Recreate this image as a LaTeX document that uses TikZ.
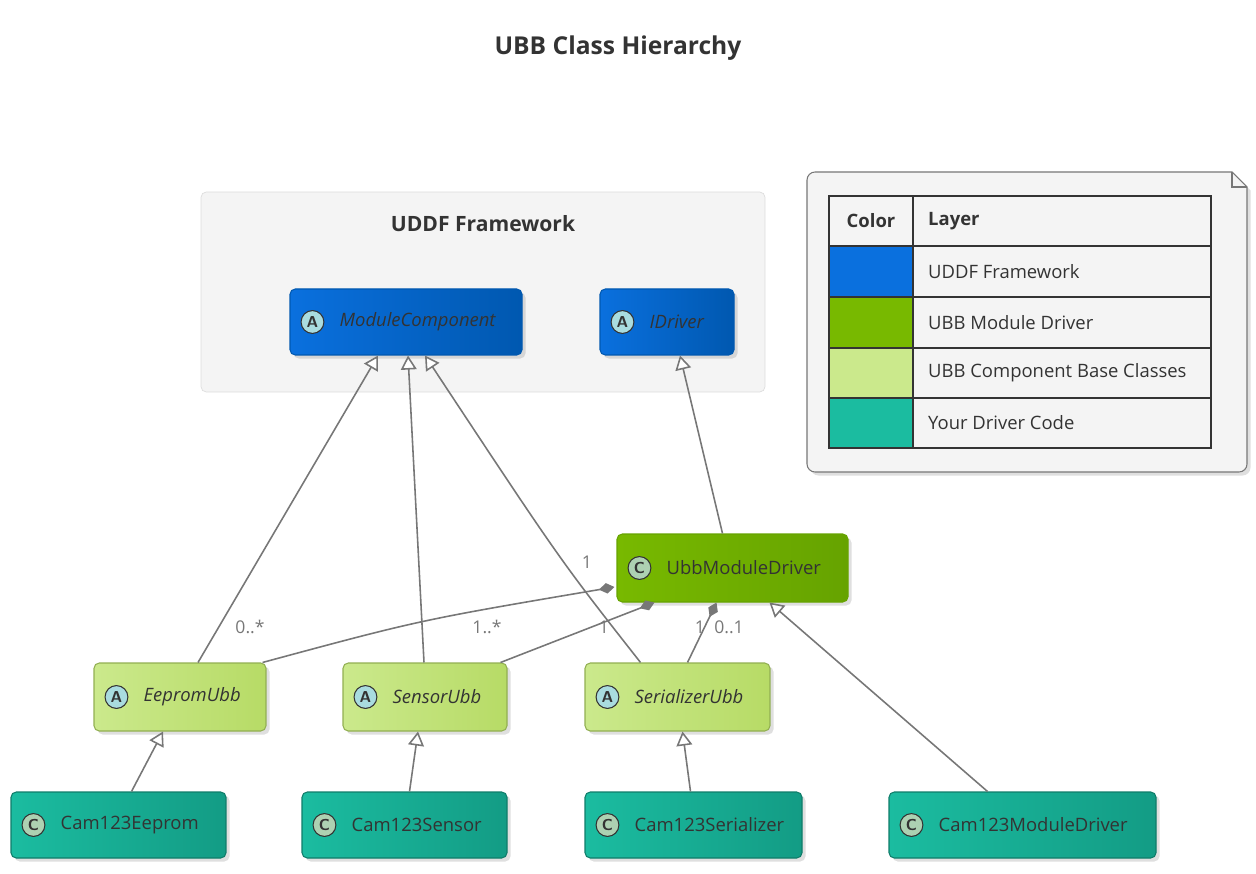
\documentclass[tikz,border=0pt]{standalone}
\usepackage{fontspec}
\setmainfont{Open Sans}
\usetikzlibrary{arrows.meta,calc,shadows}
\definecolor{pkgfill}{HTML}{F4F4F4}
\definecolor{pkgline}{HTML}{DDDDDD}
\definecolor{fwA}{HTML}{0A70DE}
\definecolor{fwB}{HTML}{0058B0}
\definecolor{drvA}{HTML}{78B900}
\definecolor{drvB}{HTML}{66A300}
\definecolor{baseA}{HTML}{CBE98C}
\definecolor{baseB}{HTML}{B7DB66}
\definecolor{yourA}{HTML}{1BBCA0}
\definecolor{yourB}{HTML}{139C85}
\definecolor{iconA}{HTML}{A9DCDF}
\definecolor{iconC}{HTML}{ADD1B2}
\definecolor{edge}{HTML}{777777}
\definecolor{txt}{HTML}{333333}
\tikzset{
  x=0.02cm, y=-0.02cm,
  cls/.style={draw, rounded corners=3pt, line width=0.6pt, drop shadow={opacity=0.25, shadow xshift=2pt, shadow yshift=-2pt}},
  fw/.style={cls, draw=fwB, left color=fwA, right color=fwB},
  drv/.style={cls, draw=drvB, left color=drvA, right color=drvB},
  base/.style={cls, draw=baseB!80!black, left color=baseA, right color=baseB},
  your/.style={cls, draw=yourB!80!black, left color=yourA, right color=yourB},
  icon/.style={circle, draw=txt, line width=0.6pt, minimum size=13pt, inner sep=0pt, font=\bfseries\sffamily\small, text=txt},
  ctext/.style={anchor=west, text=txt, font=\fontsize{10.5}{12}\selectfont},
  inherit/.style={draw=edge, line width=0.9pt, -{Triangle[open, length=8pt, width=9pt, fill=white]}},
  compose/.style={draw=edge, line width=0.9pt, {Diamond[length=9pt, width=6pt]}-},
  mult/.style={text=edge, font=\fontsize{10}{12}\selectfont},
}
% class box: name, x1, y1, x2, y2, style, letter, icon colour, text
\newcommand{\umlclass}[9]{%
  \node[#6, minimum width=(#4-#2)*0.02cm, minimum height=(#5-#3)*0.02cm, inner sep=0pt] (#1) at ({(#2+#4)/2},{(#3+#5)/2}) {};
  \node[icon, fill=#8] (#1-icon) at ($(#1.west)+(23,0)$) {#7};
  \node[ctext] (#1-text) at ($(#1.west)+(44,0)$) {#9};
}
\begin{document}
\begin{tikzpicture}
  \useasboundingbox (0,0) rectangle (1256,874);

  \node[text=txt, font=\bfseries\fontsize{14}{16}\selectfont] (title) at (618,48) {UBB Class Hierarchy};

  % framework package
  \draw[pkgline, fill=pkgfill, rounded corners=3pt] (201,192) rectangle (765,392);
  \node[text=txt, font=\bfseries\fontsize{12}{14}\selectfont] (pkg) at (483,224) {UDDF Framework};

  \umlclass{mc}{290}{289}{522}{355}{fw}{A}{iconA}{\itshape ModuleComponent}
  \umlclass{idrv}{600}{289}{734}{355}{fw}{A}{iconA}{\itshape IDriver}
  \umlclass{umd}{617}{534}{848}{602}{drv}{C}{iconC}{UbbModuleDriver}
  \umlclass{eep}{94}{663}{266}{731}{base}{A}{iconA}{\itshape EepromUbb}
  \umlclass{sen}{343}{663}{507}{731}{base}{A}{iconA}{\itshape SensorUbb}
  \umlclass{ser}{585}{663}{770}{731}{base}{A}{iconA}{\itshape SerializerUbb}
  \umlclass{ceep}{11}{792}{226}{858}{your}{C}{iconC}{Cam123Eeprom}
  \umlclass{csen}{302}{792}{507}{858}{your}{C}{iconC}{Cam123Sensor}
  \umlclass{cser}{585}{792}{802}{858}{your}{C}{iconC}{Cam123Serializer}
  \umlclass{cmd}{889}{792}{1156}{858}{your}{C}{iconC}{Cam123ModuleDriver}

  % inheritance
  \draw[inherit] ($(eep.north)+(18,0)$) -- ($(mc.south)+(-28,0)$);
  \draw[inherit] ($(sen.north)+(-1,0)$) -- ($(mc.south)+(2,0)$);
  \draw[inherit] ($(ser.north)+(-37,0)$) .. controls (560,560) .. ($(mc.south)+(19,0)$);
  \draw[inherit] ($(umd.north)+(-10,0)$) -- ($(idrv.south)+(13,0)$);
  \draw[inherit] ($(cmd.north)+(-35,0)$) -- ($(umd.south)+(37,0)$);
  \draw[inherit] ($(ceep.north)+(13,0)$) -- ($(eep.south)+(-17,0)$);
  \draw[inherit] ($(csen.north)+(5,0)$) -- ($(sen.south)+(-7,0)$);
  \draw[inherit] ($(cser.north)+(-3,0)$) -- ($(ser.south)+(5,0)$);

  % composition
  \draw[compose] ($(umd.west)+(-2,19)$) .. controls (420,620) .. ($(eep.north east)+(-4,0)$);
  \draw[compose] ($(umd.south)+(-78,0)$) -- ($(sen.north east)+(-7,0)$);
  \draw[compose] ($(umd.south)+(-16,0)$) -- ($(ser.north)+(10,0)$);

  \node[mult] (m1) at (587,562) {1};
  \node[mult] (m2) at (250,627) {0..*};
  \node[mult] (m3) at (487,627) {1..*};
  \node[mult] (m4) at (604,627) {1};
  \node[mult] (m5) at (700,627) {1};
  \node[mult] (m6) at (729,627) {0..1};

  % legend note
  \draw[edge, fill=pkgfill, line width=0.6pt, drop shadow={opacity=0.25, shadow xshift=2pt, shadow yshift=-2pt}]
    (815,172) -- (1232,172) -- (1247,187) -- (1247,464) arc (0:90:8) -- (815,472) arc (90:180:8) -- (807,180) arc (180:270:8) -- cycle;
  \draw[edge, line width=0.6pt] (1232,172) -- (1232,187) -- (1247,187);
  \fill[fwA] (829,246) rectangle (913,297);
  \fill[drvA] (829,297) rectangle (913,348);
  \fill[baseA] (829,348) rectangle (913,398);
  \fill[yourA] (829,398) rectangle (913,448);
  \draw[txt, line width=0.7pt] (829,196) rectangle (1211,448);
  \foreach \yy in {246,297,348,398} \draw[txt, line width=0.7pt] (829,\yy) -- (1211,\yy);
  \draw[txt, line width=0.7pt] (913,196) -- (913,448);
  \node[text=txt, font=\bfseries\fontsize{10.5}{12}\selectfont] (hcol) at (871,221) {Color};
  \node[ctext, font=\bfseries\fontsize{10.5}{12}\selectfont] (hlay) at (922,221) {Layer};
  \node[ctext] (l1) at (922,272) {UDDF Framework};
  \node[ctext] (l2) at (922,323) {UBB Module Driver};
  \node[ctext] (l3) at (922,373) {UBB Component Base Classes};
  \node[ctext] (l4) at (922,423) {Your Driver Code};
\end{tikzpicture}
\end{document}
